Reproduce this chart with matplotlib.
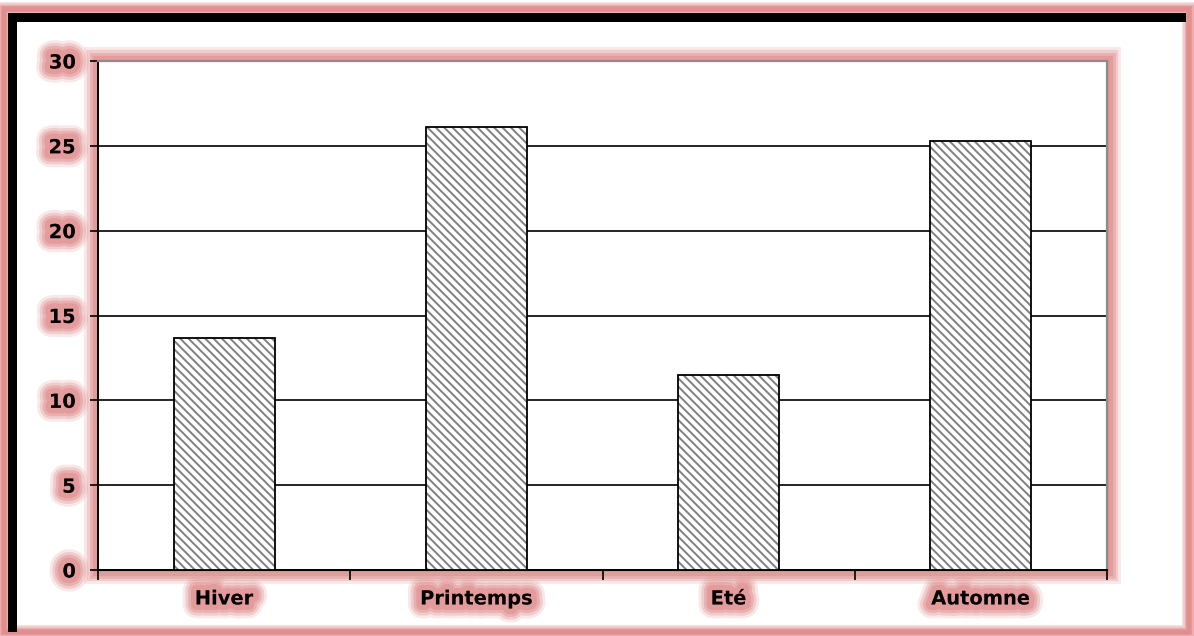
import matplotlib
matplotlib.use("Agg")
import matplotlib.pyplot as plt
import matplotlib.patheffects as pe
from matplotlib.patches import Rectangle
import numpy as np

categories = ["Hiver", "Printemps", "Eté", "Automne"]
values = [13.7, 26.1, 11.5, 25.3]
y_ticks = [0, 5, 10, 15, 20, 25, 30]

GLOW = "#e08e8e"
W, H = 1194, 636

plt.rcParams["font.family"] = ["DejaVu Sans"]
plt.rcParams["hatch.linewidth"] = 1.4

fig = plt.figure(figsize=(W / 100, H / 100), dpi=100)
fig.patch.set_facecolor("white")


def px(x, y):
    return x / W, 1 - y / H


def glow_effects(width, color=GLOW):
    # soft halo built from several translucent strokes
    effs = []
    for k, a in [(1.0, 0.2), (0.8, 0.3), (0.6, 0.45), (0.4, 0.6)]:
        effs.append(pe.Stroke(linewidth=width * k, foreground=color, alpha=a))
    effs.append(pe.Normal())
    return effs


# outer picture frame with halo
x0, y0 = px(4, 632)
x1, y1 = px(1189, 9)
frame = Rectangle((x0, y0), x1 - x0, y1 - y0, transform=fig.transFigure,
                  facecolor="none", edgecolor=GLOW, linewidth=3, zorder=-5)
frame.set_path_effects(glow_effects(11))
fig.patches.append(frame)
# thick dark top and left edges
fx0, fy_top = px(8, 13)
fx_right, _ = px(1186, 0)
_, fy_bot = px(0, 632)
fig.patches.append(Rectangle((fx0, fy_top - 9 / H), fx_right - fx0, 9 / H,
                             transform=fig.transFigure, facecolor="black",
                             edgecolor="none", zorder=-4))
fig.patches.append(Rectangle((fx0, fy_bot), 9 / W, fy_top - fy_bot,
                             transform=fig.transFigure, facecolor="black",
                             edgecolor="none", zorder=-4))

# plot area
L, T, R, B = 98, 61, 1107, 570
ax = fig.add_axes([L / W, 1 - B / H, (R - L) / W, (B - T) / H])
ax.set_facecolor("white")
ax.set_zorder(2)

# halo around the plot area, drawn behind the axes
halo = Rectangle((L / W, 1 - B / H), (R - L) / W, (B - T) / H,
                 transform=fig.transFigure, facecolor="none",
                 edgecolor=GLOW, linewidth=2, zorder=-3)
halo.set_path_effects(glow_effects(20))
fig.patches.append(halo)

x = np.arange(len(categories))
bw = 0.4
ax.bar(x, values, width=bw, color="white", edgecolor="#808080",
       hatch="\\\\\\\\", linewidth=0, zorder=3)
ax.bar(x, values, width=bw, color="none", edgecolor="black",
       linewidth=1.3, zorder=4)

ax.set_xlim(-0.5, len(categories) - 0.5)
ax.set_ylim(0, 30)
ax.set_yticks(y_ticks)
ax.yaxis.grid(True, color="black", linewidth=1.2, zorder=1)
ax.set_axisbelow(True)

ax.set_xticks(np.arange(-0.5, len(categories), 1.0))
ax.set_xticklabels([])
ax.set_xticks(x, minor=True)
ax.set_xticklabels(categories, minor=True)
ax.tick_params(axis="x", which="minor", length=0, pad=14)
ax.tick_params(axis="x", which="major", length=7, width=1.2, direction="out")
ax.tick_params(axis="y", length=6, width=1.2, direction="out", pad=10)

for sp in ["left", "bottom"]:
    ax.spines[sp].set_color("black")
    ax.spines[sp].set_linewidth(1.4)
for sp in ["top", "right"]:
    ax.spines[sp].set_color("#8c8c8c")
    ax.spines[sp].set_linewidth(1.6)

for lab in ax.get_yticklabels() + ax.get_xticklabels(minor=True):
    lab.set_fontsize(14)
    lab.set_fontweight("bold")
    lab.set_path_effects(glow_effects(20))

fig.savefig("out.png", dpi=100)
